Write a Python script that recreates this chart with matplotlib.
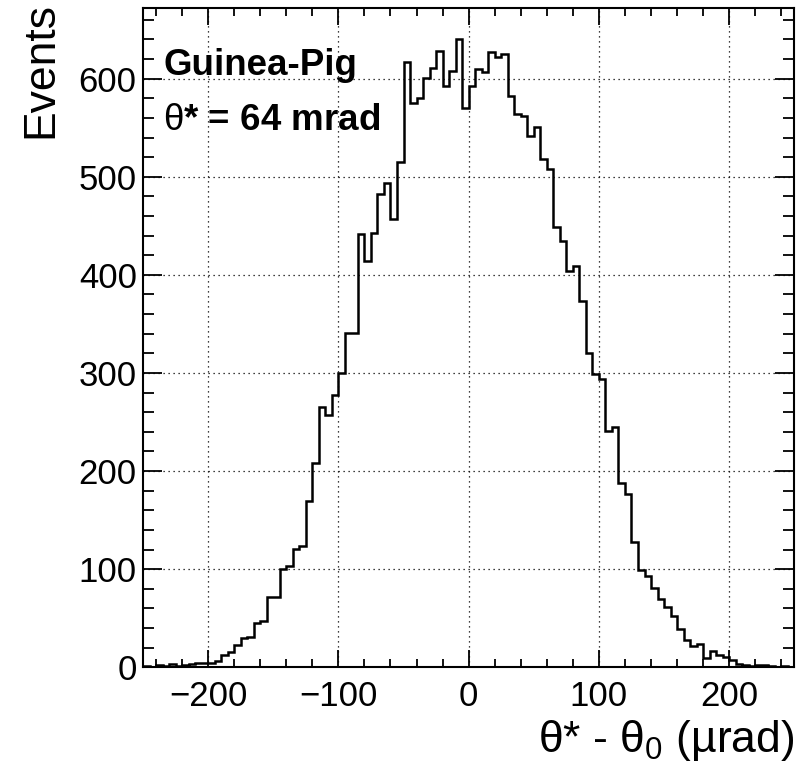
import numpy as np
import matplotlib
matplotlib.use("Agg")
import matplotlib.pyplot as plt
from matplotlib.ticker import MultipleLocator

plt.rcParams['font.family'] = ['Liberation Sans', 'DejaVu Sans']
plt.rcParams['mathtext.fontset'] = 'custom'
plt.rcParams['mathtext.rm'] = 'Liberation Sans'
plt.rcParams['mathtext.it'] = 'Liberation Sans:italic'
plt.rcParams['mathtext.bf'] = 'Liberation Sans:bold'

##############################################################################
# histogram content, 100 bins of 5 urad

x_lo, x_hi, n_bins = -250, 250, 100
counts = [1, 0, 2, 1, 3, 1, 2, 3, 4, 4,
          4, 6, 13, 16, 23, 30, 31, 45, 47, 72,
          72, 100, 103, 121, 124, 169, 208, 265, 257, 278,
          300, 341, 341, 442, 414, 443, 482, 494, 457, 515,
          617, 575, 580, 601, 611, 628, 592, 608, 640, 570,
          592, 610, 607, 627, 622, 625, 582, 564, 562, 542,
          551, 518, 508, 449, 435, 404, 409, 373, 320, 299,
          294, 241, 245, 188, 177, 128, 99, 93, 81, 70,
          61, 52, 39, 28, 22, 24, 9, 17, 13, 10,
          7, 3, 2, 1, 2, 2, 1, 0, 1, 0]
y_max = 672

x_ticks = [-200, -100, 0, 100, 200]
y_ticks = [0, 100, 200, 300, 400, 500, 600]

label_sample = "Guinea-Pig"
label_angle = r"$\mathrm{\theta}$* = 64 mrad"

##############################################################################
# plot

edges = np.linspace(x_lo, x_hi, n_bins + 1)

fig = plt.figure(figsize=(8.1, 7.7), dpi=100)
ax = fig.add_axes([143 / 810, 1 - 667.3 / 770, 651.3 / 810, 659.3 / 770])

ax.stairs(counts, edges, color='black', linewidth=1.8, baseline=0)

ax.set_xlim(x_lo, x_hi)
ax.set_ylim(0, y_max)
ax.set_xticks(x_ticks)
ax.set_yticks(y_ticks)
ax.xaxis.set_minor_locator(MultipleLocator(20))
ax.yaxis.set_minor_locator(MultipleLocator(20))

ax.grid(True, which='major', color='black', linestyle=(0, (1, 3)), linewidth=0.9)
ax.set_axisbelow(True)

for sp in ax.spines.values():
    sp.set_linewidth(1.5)

ax.tick_params(which='both', direction='in', top=True, right=True, width=1.3)
ax.tick_params(axis='x', which='major', length=12, pad=9, labelsize=25)
ax.tick_params(axis='x', which='minor', length=6)
ax.tick_params(axis='y', which='major', length=14, pad=4.5, labelsize=25)
ax.tick_params(axis='y', which='minor', length=8)

ax.text(0.031, 0.898, label_sample, transform=ax.transAxes, fontsize=26.5,
        fontweight='bold', ha='left', va='baseline')
ax.text(0.031, 0.815, label_angle, transform=ax.transAxes, fontsize=26.5,
        fontweight='bold', ha='left', va='baseline')

fig.text(20 / 810, 1 - 2 / 770, "Events", rotation=90, fontsize=32,
         ha='left', va='top')
fig.text(794 / 810, 1 - 752 / 770, "θ* - θ$_0$ (µrad)", fontsize=32,
         ha='right', va='baseline')

fig.savefig("out.png", dpi=100)
